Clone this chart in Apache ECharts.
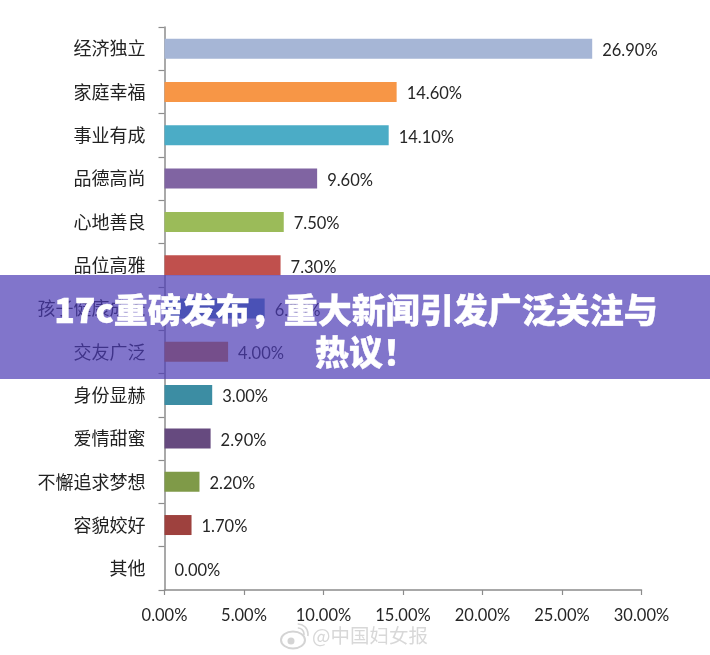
<!DOCTYPE html>
<html><head><meta charset="utf-8">
<style>html,body{margin:0;padding:0;background:#fff}#c{width:710px;height:655px;filter:blur(0.35px)}</style>
<script src="https://cdn.jsdelivr.net/npm/echarts@6/dist/echarts.min.js"></script>
</head><body><div id="c"></div>
<script>
const categories = ['经济独立','家庭幸福','事业有成','品德高尚','心地善良','品位高雅','孩子健康成长','交友广泛','身份显赫','爱情甜蜜','不懈追求梦想','容貌姣好','其他'];
const values = [26.9,14.6,14.1,9.6,7.5,7.3,6.3,4.0,3.0,2.9,2.2,1.7,0];
const barColors = ['#a6b6d6','#f79646','#4bacc6','#8064a2','#9bbb59','#c0504d','#4885b8','#d57c2b','#3c8da3','#664a7f','#7f9a48','#9e413e','#4f81bd'];
const xTicks = [0,5,10,15,20,25,30];
const title = ['17c重磅发布，重大新闻引发广泛关注与','热议！'];
const watermark = '@中国妇女报';
const latin = 'Lato, "Noto Sans CJK SC", sans-serif';
const titleFont = '900 34px "Noto Sans CJK SC", sans-serif';
const chart = echarts.init(document.getElementById('c'), null, {renderer:'canvas'});
chart.setOption({
  animation:false,
  backgroundColor:'#fff',
  grid:{left:164.5,right:68.5,top:27,bottom:65,containLabel:false},
  xAxis:{type:'value',min:xTicks[0],max:xTicks[xTicks.length-1],interval:5,
    axisLine:{show:true,lineStyle:{color:'#8c8c8c',width:1.5}},
    axisTick:{show:true,length:5,lineStyle:{color:'#8c8c8c',width:1.2}},
    splitLine:{show:false},
    axisLabel:{margin:17,fontFamily:latin,fontSize:16.5,color:'#262626',formatter:v=>v.toFixed(2)+'%'}},
  yAxis:{type:'category',inverse:true,data:categories,
    axisLine:{show:true,lineStyle:{color:'#8c8c8c',width:1.5}},
    axisTick:{show:true,length:6,alignWithLabel:false,lineStyle:{color:'#8c8c8c',width:1.2}},
    axisLabel:{margin:19,padding:[0,0,2,0],fontFamily:'"Noto Sans CJK SC", sans-serif',fontSize:18,color:'#222'}},
  series:[{type:'bar',barWidth:20,
    data:values.map((v,i)=>({value:v,itemStyle:{color:barColors[i]}})),
    label:{show:true,position:'right',distance:10,offset:[0,2],fontFamily:latin,fontSize:16.5,color:'#262626',formatter:p=>p.value.toFixed(2)+'%'}}],
  graphic:[
    {type:'rect',z:100,shape:{x:0,y:275,width:710,height:104},style:{fill:'rgba(75,58,181,0.7)'}},
    {type:'text',z:101,x:356,y:310,style:{text:title[0],fill:'#fff',stroke:'#fff',lineWidth:0.4,align:'center',verticalAlign:'middle',font:titleFont}},
    {type:'text',z:101,x:366,y:352,style:{text:title[1],fill:'#fff',stroke:'#fff',lineWidth:0.4,align:'center',verticalAlign:'middle',font:titleFont}},
    {type:'text',z:50,x:312,y:636,style:{text:watermark,fill:'#d8d8d8',align:'left',verticalAlign:'middle',font:'19.5px "Noto Sans CJK SC", sans-serif'}},
    {type:'ellipse',z:50,shape:{cx:293,cy:640,rx:12,ry:8.5},style:{fill:'none',stroke:'#d4d4d4',lineWidth:2}},
    {type:'circle',z:50,shape:{cx:291,cy:641,r:3.5},style:{fill:'#d4d4d4'}},
    {type:'arc',z:50,shape:{cx:298,cy:634,r:6,startAngle:-1.6,endAngle:0.2},style:{fill:'none',stroke:'#d4d4d4',lineWidth:1.6}},
    {type:'arc',z:50,shape:{cx:298,cy:634,r:10,startAngle:-1.6,endAngle:0.2},style:{fill:'none',stroke:'#d4d4d4',lineWidth:1.6}}
  ]
});
</script></body></html>
